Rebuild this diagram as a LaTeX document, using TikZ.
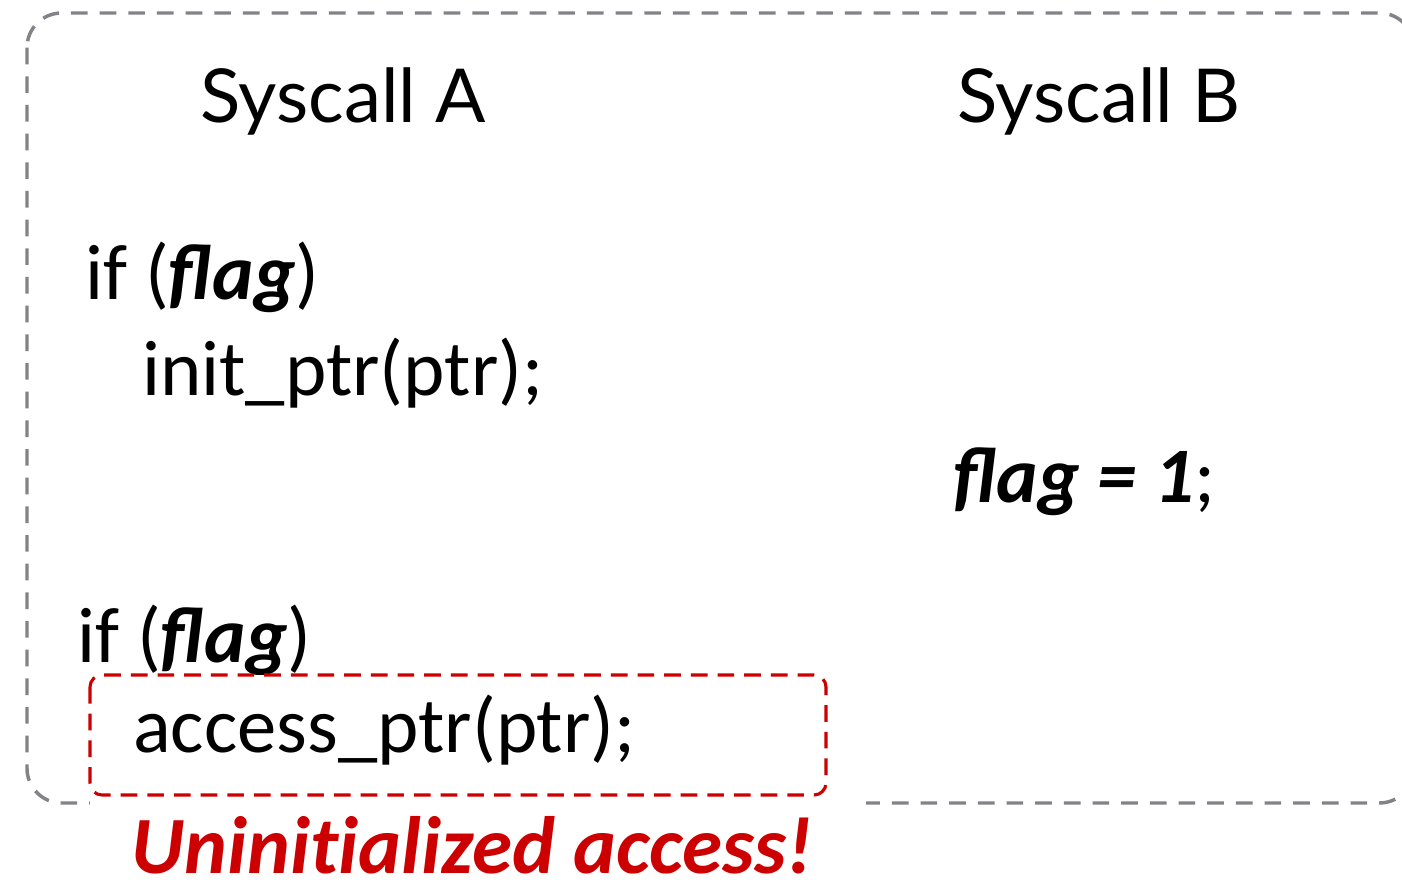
\documentclass[tikz,border=0pt]{standalone}
\usepackage{fontspec}
\newfontfamily\headfont{Lato}
\newfontfamily\codefont{Carlito}
\definecolor{framegray}{RGB}{130,130,136}
\definecolor{alertred}{RGB}{204,0,0}
\begin{document}
\begin{tikzpicture}[x=0.75pt,y=-0.75pt,
  head/.style={anchor=base west,inner sep=0pt,font=\headfont\fontsize{55.8}{66}\selectfont},
  code/.style={anchor=base west,inner sep=0pt,font=\codefont\fontsize{59}{71}\selectfont},
  frame/.style={draw=framegray,line width=2.6pt,dash pattern=on 12.5pt off 9pt,rounded corners=26pt},
  hotbox/.style={draw=alertred,line width=2.3pt,dash pattern=on 12.5pt off 7.5pt,rounded corners=9pt},
  alert/.style={anchor=base west,inner sep=0pt,text=alertred,font=\codefont\bfseries\itshape\fontsize{61}{73}\selectfont}]
\useasboundingbox (0,0) rectangle (1402,884);
\clip (0,0) rectangle (1402,884);

% outer frame holding both syscalls
\draw[frame] (27,13) rectangle (1414,803);

% column headings
\node[head] (sa) at (200,123) {Syscall A};
\node[head] (sb) at (957,123) {Syscall B};

% syscall A, first check
\node[code] (c1) at (85,300) {if (\textbf{\textit{flag}})};
\node[code] (c2) at (142,395) {init\_ptr(ptr);};

% syscall B, write of the flag
\node[code] (b1) at (953,502) {\textbf{\textit{flag = 1}};};

% syscall A, second check
\node[code] (c3) at (77,662) {if (\textbf{\textit{flag}})};

% highlighted access
\draw[hotbox,fill=white] (90,675) rectangle (826,795);
\node[code] (c4) at (133,752) {access\_ptr(ptr);};

% warning label with a white band across the frame
\fill[white] (90,798) rectangle (866,812);
\node[alert] (warn) at (131,873) {Uninit\kern0pt ialized access!};
\end{tikzpicture}
\end{document}
